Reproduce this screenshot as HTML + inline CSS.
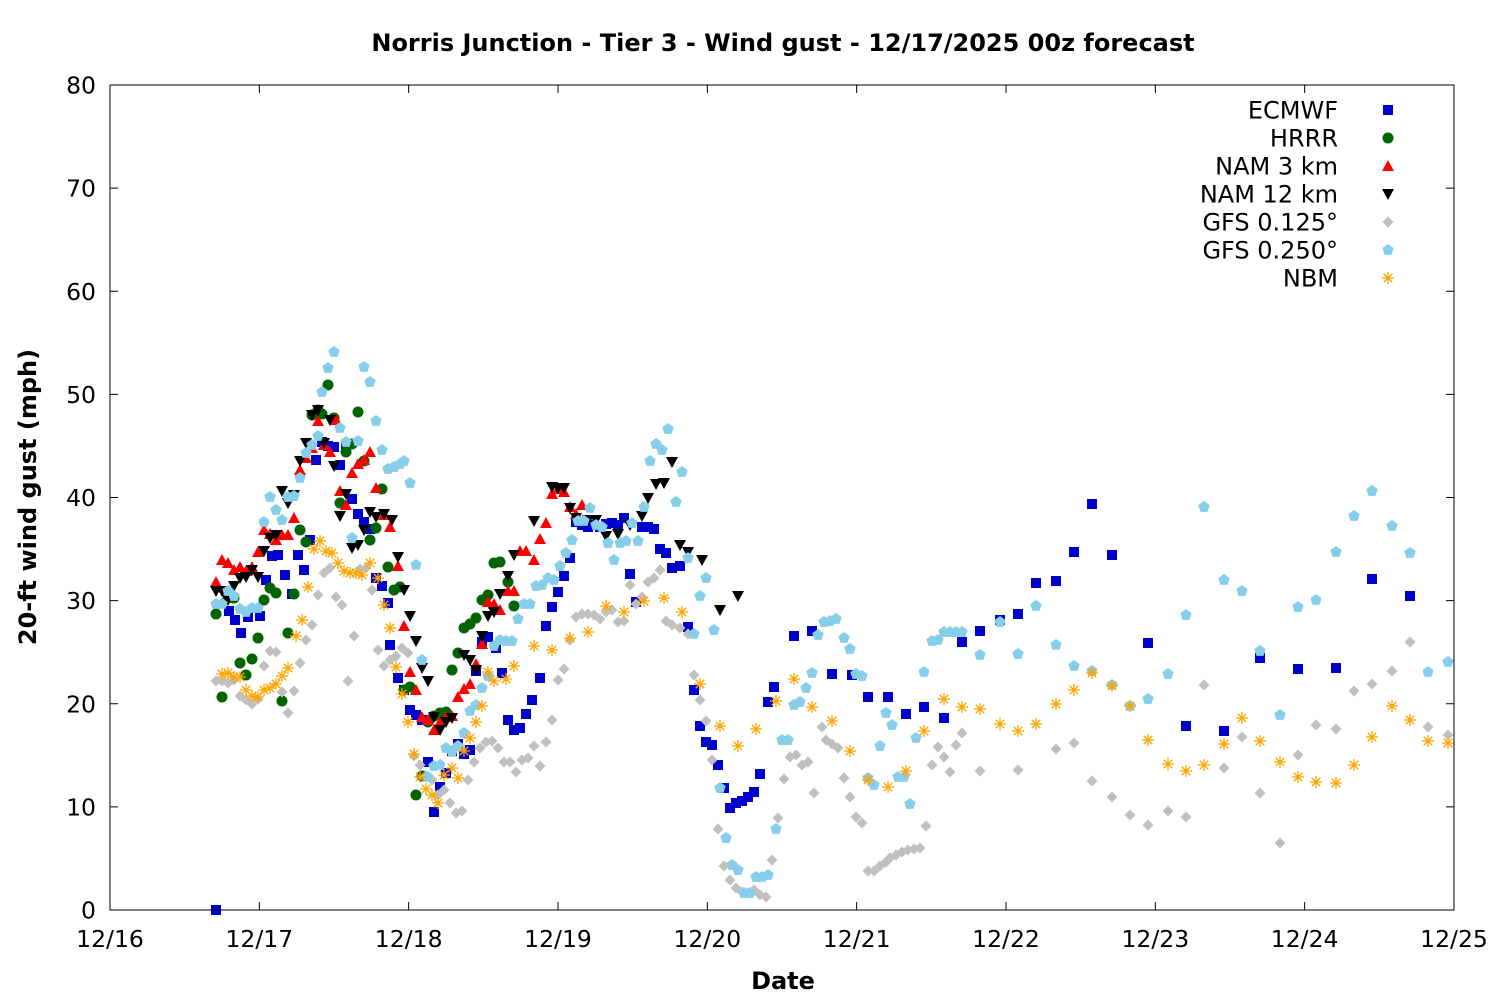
<!DOCTYPE html>
<html><head><meta charset="utf-8"><style>
body{margin:0;background:#fff}
svg text{font-family:"DejaVu Sans","Liberation Sans",sans-serif}
</style></head><body>
<svg id="s" xmlns="http://www.w3.org/2000/svg" width="1500" height="1000" viewBox="0 0 1500 1000">
<rect width="1500" height="1000" fill="#fff"/>
<text x="783" y="51" text-anchor="middle" font-size="24" font-weight="bold">Norris Junction - Tier 3 - Wind gust - 12/17/2025 00z forecast</text>
<text x="783" y="989" text-anchor="middle" font-size="24" font-weight="bold">Date</text>
<text transform="translate(36,497) rotate(-90)" text-anchor="middle" font-size="24" font-weight="bold">20-ft wind gust (mph)</text>
<g id="ax"></g>
<g id="pts"></g>
<rect x="110" y="85" width="1344" height="825" fill="none" stroke="#000" stroke-width="1"/>
<g id="leg" font-size="24"></g>
</svg>
<script>
var NS="http://www.w3.org/2000/svg";
function el(p,t,a,txt){var e=document.createElementNS(NS,t);for(var k in a)e.setAttribute(k,a[k]);if(txt!==undefined)e.textContent=txt;p.appendChild(e);return e;}
var ax=document.getElementById('ax');
for(var i=0;i<=8;i++){var y=910-i*103.125;
 el(ax,'line',{x1:110,x2:118,y1:y,y2:y,stroke:'#000'});el(ax,'line',{x1:1446,x2:1454,y1:y,y2:y,stroke:'#000'});
 el(ax,'text',{x:96,y:y+8.5,'text-anchor':'end','font-size':23.5},String(i*10));}
for(var i=0;i<=9;i++){var x=110+i*149.333;
 el(ax,'line',{x1:x,x2:x,y1:910,y2:902,stroke:'#000'});el(ax,'line',{x1:x,x2:x,y1:85,y2:93,stroke:'#000'});
 el(ax,'text',{x:x,y:947,'text-anchor':'middle','font-size':23.5},'12/'+(16+i));}
var P=document.getElementById('pts');
function mk(g,type,x,y){
 if(type==0)el(g,'rect',{x:x-5,y:y-5,width:10,height:10,fill:'#0000cc'});
 else if(type==1)el(g,'circle',{cx:x,cy:y,r:5.5,fill:'#006400'});
 else if(type==2)el(g,'polygon',{points:(x-6)+','+(y+5)+' '+(x+6)+','+(y+5)+' '+x+','+(y-6),fill:'#ff0000'});
 else if(type==3)el(g,'polygon',{points:(x-6)+','+(y-5)+' '+(x+6)+','+(y-5)+' '+x+','+(y+6),fill:'#000'});
 else if(type==4)el(g,'polygon',{points:x+','+(y-5.5)+' '+(x+5.5)+','+y+' '+x+','+(y+5.5)+' '+(x-5.5)+','+y,fill:'#c0c0c0'});
 else if(type==5){var s='';for(var k=0;k<5;k++){var a=-Math.PI/2+k*2*Math.PI/5;s+=(x+6*Math.cos(a)).toFixed(1)+','+(y+6*Math.sin(a)).toFixed(1)+' ';}el(g,'polygon',{points:s,fill:'#87ceeb'});}
 else if(type==6){for(var k=0;k<4;k++){var a=k*Math.PI/4;el(g,'line',{x1:x-6*Math.cos(a),y1:y-6*Math.sin(a),x2:x+6*Math.cos(a),y2:y+6*Math.sin(a),stroke:'#ffa500','stroke-width':1.3});}}
}
var D=[
[216,910,229,611,235,620,241,633,248,617,260,616,266,580,272,556,278,555,285,575,292,594,298,555,304,570,310,540,316,460,322,442,328,446,334,447,340,465,346,446,352,499,358,514,364,522,370,529,376,578,382,586,388,603,390,645,398,678,404,690,410,710,416,715,422,720,428,762,434,812,440,787,446,773,452,751,458,744,464,754,470,750,476,671,482,642,488,637,496,648,502,673,508,720,514,730,520,728,526,714,532,700,540,678,546,626,552,607,558,592,564,576,570,558,576,522,582,525,588,527,594,525,600,527,606,524,612,523,618,525,624,518,630,574,636,602,642,527,648,527,654,529,660,549,666,553,672,568,680,566,688,627,694,690,700,726,706,742,712,745,718,765,724,788,730,808,736,803,742,801,748,797,754,792,760,774,768,702,774,687,794,636,812,631,832,674,852,675,868,697,888,697,906,714,924,707,944,718,962,642,980,631,1000,620,1018,614,1036,583,1056,581,1074,552,1092,504,1112,555,1148,643,1186,726,1224,731,1260,658,1298,669,1336,668,1372,579,1410,596],
[216,614,222,697,228,598,234,598,240,663,246,675,252,659,258,638,264,600,270,588,276,593,282,701,288,633,294,594,300,530,306,542,312,415,318,410,322,414,328,385,334,418,340,503,346,452,352,444,358,412,364,461,370,540,376,528,382,489,388,567,394,590,400,587,404,690,410,687,416,795,422,776,428,722,434,716,440,713,446,712,452,670,458,653,464,628,470,624,476,618,482,600,488,595,494,563,500,562,508,582,514,606],
[216,582,222,560,228,563,234,570,240,567,246,571,252,567,258,552,264,530,270,534,276,540,282,535,288,535,294,518,300,470,306,458,312,448,318,421,324,445,330,452,336,420,340,491,346,505,352,473,358,464,364,460,370,452,376,488,384,515,390,527,398,566,404,626,410,672,416,690,422,717,428,720,434,730,440,722,446,717,452,716,458,697,464,689,470,684,476,664,482,644,488,602,494,604,500,610,508,591,514,591,520,551,526,551,534,560,540,539,546,523,552,494,558,489,564,492,570,507,576,514,582,505],
[216,591,222,591,228,600,234,586,240,578,246,577,252,570,258,577,264,551,270,538,276,535,282,491,288,503,294,495,300,461,306,443,312,415,318,410,324,443,330,420,334,466,340,516,346,494,352,548,358,545,364,530,370,512,376,517,384,514,392,520,398,557,404,590,410,616,416,641,422,668,428,681,434,717,440,730,446,722,452,718,464,655,470,660,476,670,482,636,488,616,494,612,500,594,508,576,514,555,534,521,552,487,558,488,564,488,570,508,576,518,588,520,596,520,606,536,618,534,630,525,642,516,648,498,656,484,664,483,672,462,680,545,688,552,702,560,720,610,738,596],
[216,681,222,681,228,683,234,680,240,696,246,700,252,704,258,699,264,666,270,651,276,652,282,692,288,713,294,691,300,663,306,640,312,625,318,595,324,573,330,568,336,597,342,605,348,681,354,636,360,569,366,568,372,590,378,650,384,666,390,660,396,656,402,648,408,653,414,756,420,765,426,776,432,780,438,795,444,790,450,803,456,813,462,811,468,780,474,762,480,748,486,742,492,741,498,748,504,762,510,762,516,772,522,760,528,758,534,746,540,766,546,742,552,720,558,680,564,669,570,640,576,617,582,614,588,614,594,615,600,619,606,612,612,610,618,622,624,621,630,585,636,604,642,597,648,582,654,578,660,570,666,621,672,625,680,628,688,634,694,675,700,700,706,721,712,760,718,829,724,866,730,880,736,888,742,892,748,893,754,890,760,895,766,897,772,860,778,818,784,779,790,757,796,755,802,765,808,762,814,793,822,727,826,740,832,744,838,748,844,778,850,797,856,817,862,823,868,871,874,871,880,866,886,862,890,858,896,855,902,852,908,850,914,849,920,848,926,826,932,765,938,747,944,757,950,772,956,745,962,733,980,771,1018,770,1056,749,1074,743,1092,781,1112,797,1130,815,1148,825,1168,811,1186,817,1204,685,1224,768,1242,737,1260,793,1280,843,1298,755,1316,725,1336,729,1354,691,1372,684,1392,671,1410,642,1428,727,1448,735],
[216,604,222,604,228,591,234,596,240,609,246,612,252,608,258,608,264,522,270,497,276,510,282,520,288,497,294,496,300,478,306,453,312,445,318,436,322,392,328,368,334,352,340,428,346,442,352,538,358,441,364,367,370,382,376,421,382,450,388,469,394,467,400,464,404,461,410,483,416,565,422,660,428,777,434,766,440,765,446,748,452,752,458,746,464,733,470,711,476,705,482,688,488,676,494,646,500,640,506,641,512,641,518,619,524,604,530,604,536,586,542,585,548,578,554,580,560,566,566,553,572,540,578,521,584,521,590,508,596,525,602,527,608,543,614,560,620,543,626,541,632,523,638,541,644,507,650,461,656,444,662,450,668,429,676,502,682,472,688,558,694,634,700,596,706,578,714,630,720,788,726,838,732,865,738,870,744,893,750,893,756,877,762,877,768,875,776,829,782,740,788,740,794,705,800,702,806,688,812,673,818,635,824,622,830,621,836,619,844,638,850,649,856,674,862,676,868,778,874,785,880,746,886,713,892,725,898,777,904,777,910,804,916,738,924,672,932,641,938,640,944,632,950,632,956,632,962,632,980,655,1000,622,1018,654,1036,606,1056,645,1074,666,1092,671,1112,685,1130,706,1148,699,1168,674,1186,615,1204,507,1224,580,1242,591,1260,651,1280,715,1298,607,1316,600,1336,552,1354,516,1372,491,1392,526,1410,553,1428,672,1448,662],
[222,674,228,673,234,677,240,677,246,690,252,696,258,697,264,690,270,688,276,684,282,676,288,668,296,636,302,620,308,587,314,549,320,541,326,551,332,553,338,563,344,571,350,573,356,573,362,575,370,563,378,578,384,605,390,628,396,667,402,694,408,722,414,754,420,777,426,789,432,795,438,803,444,775,452,768,458,778,464,751,470,738,476,722,482,706,488,672,494,681,506,679,514,666,534,646,552,650,570,638,588,632,606,606,624,612,644,601,664,598,682,612,700,684,720,726,738,746,756,729,776,701,794,679,812,707,832,721,850,751,868,780,888,787,906,771,924,731,944,699,962,707,980,709,1000,724,1018,731,1036,724,1056,704,1074,690,1092,673,1112,686,1130,706,1148,740,1168,764,1186,771,1204,765,1224,744,1242,718,1260,741,1280,762,1298,777,1316,782,1336,783,1354,765,1372,737,1392,706,1410,720,1428,741,1448,743]];
for(var t=0;t<7;t++){var a=D[t];for(var i=0;i<a.length;i+=2)mk(P,t,a[i],a[i+1]);}
var L=document.getElementById('leg');
var names=['ECMWF','HRRR','NAM 3 km','NAM 12 km','GFS 0.125°','GFS 0.250°','NBM'];
for(var t=0;t<7;t++){var y=110+t*28;el(L,'text',{x:1338,y:y+8.5,'text-anchor':'end'},names[t]);mk(L,t,1388,y);}
</script>
</body></html>
